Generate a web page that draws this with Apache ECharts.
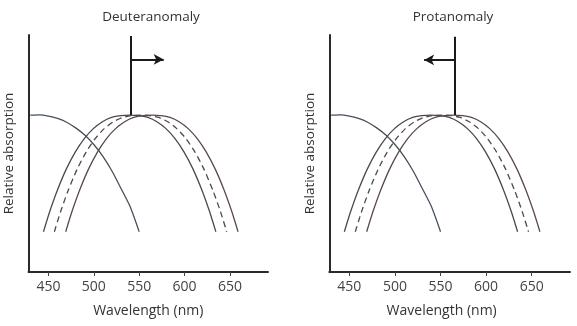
<!DOCTYPE html>
<html>
<head>
<meta charset="utf-8">
<script src="https://cdn.jsdelivr.net/npm/echarts@6/dist/echarts.min.js"></script>
<style>
html,body{margin:0;padding:0;background:#fff;}
#c{width:577px;height:326px;}
</style>
</head>
<body>
<div id="c"></div>
<script>
// Panel titles and axis text
const panelTitles = ['Deuteranomaly', 'Protanomaly'];
const xTickValues = [450, 500, 550, 600, 650];
const xAxisName = 'Wavelength (nm)';
const yAxisName = 'Relative absorption';

// Short-wavelength (S) curve
const sWave = [430, 440, 450, 460, 470, 480, 490, 500, 510, 520, 530, 540, 550];
const sVal  = [66.2, 66.3, 65.8, 64.8, 63.2, 60.8, 57.8, 53.8, 48.8, 42.6, 35.2, 27.6, 17.0];

// Cone curves (same shape for all three, read values)
const coneVal  = [17.0, 25.6, 34.2, 43.3, 50.6, 56.3, 60.5, 63.4, 65.2, 66.0, 66.2, 66.0, 65.2, 63.4, 60.5, 56.3, 50.6, 43.3, 34.2, 25.6, 17.0];
const mWave    = [444.5, 451.5, 459.5, 469.5, 479.5, 489.5, 499.5, 509.5, 519.5, 529.5, 539.5, 549.5, 559.5, 569.5, 579.5, 589.5, 599.5, 609.5, 619.5, 627.5, 634.5];
const dashWave = [456.5, 463.5, 471.5, 481.5, 491.5, 501.5, 511.5, 521.5, 531.5, 541.5, 551.5, 561.5, 571.5, 581.5, 591.5, 601.5, 611.5, 621.5, 631.5, 639.5, 646.5];
const lWave    = [469, 476, 484, 494, 504, 514, 524, 534, 544, 554, 564, 574, 584, 594, 604, 614, 624, 634, 644, 652, 659];

// Shift markers: [line wavelength, line bottom, line top, arrow y, arrow tip wavelength]
const deuterMarker = [541, 66.2, 99.6, 89.7, 577];
const protanMarker = [565.5, 66.2, 99.3, 89.5, 532];

function pairs(xs, ys){ return xs.map((x,i)=>[x, ys[i]]); }

const chart = echarts.init(document.getElementById('c'), null, {renderer:'canvas'});
const FONT = 'Open Sans';
const grids = [
  {left: 28.5, top: 35, width: 239.5, height: 237},
  {left: 329.3, top: 35, width: 240.7, height: 237}
];
const titleX = [146, 448];

const xAxes = [], yAxes = [], series = [], titles = [];
[deuterMarker, protanMarker].forEach((mk, gi) => {
  titles.push({text: panelTitles[gi], left: titleX[gi], top: 5, textAlign: 'center',
    textStyle:{fontFamily: FONT, fontSize: 13.5, fontWeight: 'normal', color: '#333'}});
  xAxes.push({type:'value', gridIndex: gi, min: 428, max: 692,
    axisLine:{show:true, onZero:false, lineStyle:{color:'#2a2a2a', width:2}},
    axisTick:{show:true, customValues: xTickValues, length:4, inside:false, lineStyle:{color:'#444', width:1}},
    axisLabel:{show:true, customValues: xTickValues, color:'#444', fontFamily: FONT, fontSize: 14, margin: 8},
    splitLine:{show:false},
    name: xAxisName, nameLocation:'middle', nameGap: 32,
    nameTextStyle:{fontFamily: FONT, fontSize: 14, color:'#333', padding: gi===1 ? [0,16,0,0] : 0}
  });
  yAxes.push({type:'value', gridIndex: gi, min: 0, max: 100,
    axisLine:{show:true, onZero:false, lineStyle:{color:'#2a2a2a', width:2}},
    axisTick:{show:false}, axisLabel:{show:false}, splitLine:{show:false},
    name: yAxisName, nameLocation:'middle', nameGap: 12, nameRotate: 90,
    nameTextStyle:{fontFamily: FONT, fontSize: 13.5, color:'#333'}
  });
  const base = {type:'line', xAxisIndex: gi, yAxisIndex: gi, showSymbol:false, symbol:'none', smooth:0.2, silent:true};
  series.push(Object.assign({}, base, {data: pairs(sWave, sVal), lineStyle:{color:'#46505c', width:1.3}}));
  series.push(Object.assign({}, base, {data: pairs(mWave, coneVal), lineStyle:{color:'#4a4a4a', width:1.3}}));
  series.push(Object.assign({}, base, {data: pairs(dashWave, coneVal), lineStyle:{color:'#4a4a4a', width:1.3, type:[6,4]}}));
  series.push(Object.assign({}, base, {data: pairs(lWave, coneVal), lineStyle:{color:'#5a4a46', width:1.3}}));
  series.push({type:'line', xAxisIndex: gi, yAxisIndex: gi, data: [], silent:true,
    markLine:{silent:true, animation:false, label:{show:false},
      lineStyle:{color:'#1a1a1a', width:2, type:'solid'},
      symbol:['none','arrow'], symbolSize:[8,10],
      data:[
        [{coord:[mk[0], mk[1]], symbol:'none'}, {coord:[mk[0], mk[2]], symbol:'none'}],
        [{coord:[mk[0], mk[3]], symbol:'none'}, {coord:[mk[4], mk[3]], symbol:'arrow'}]
      ]}
  });
});

chart.setOption({
  animation:false,
  backgroundColor:'#fff',
  title: titles,
  grid: grids,
  xAxis: xAxes,
  yAxis: yAxes,
  series: series
});
</script>
</body>
</html>
